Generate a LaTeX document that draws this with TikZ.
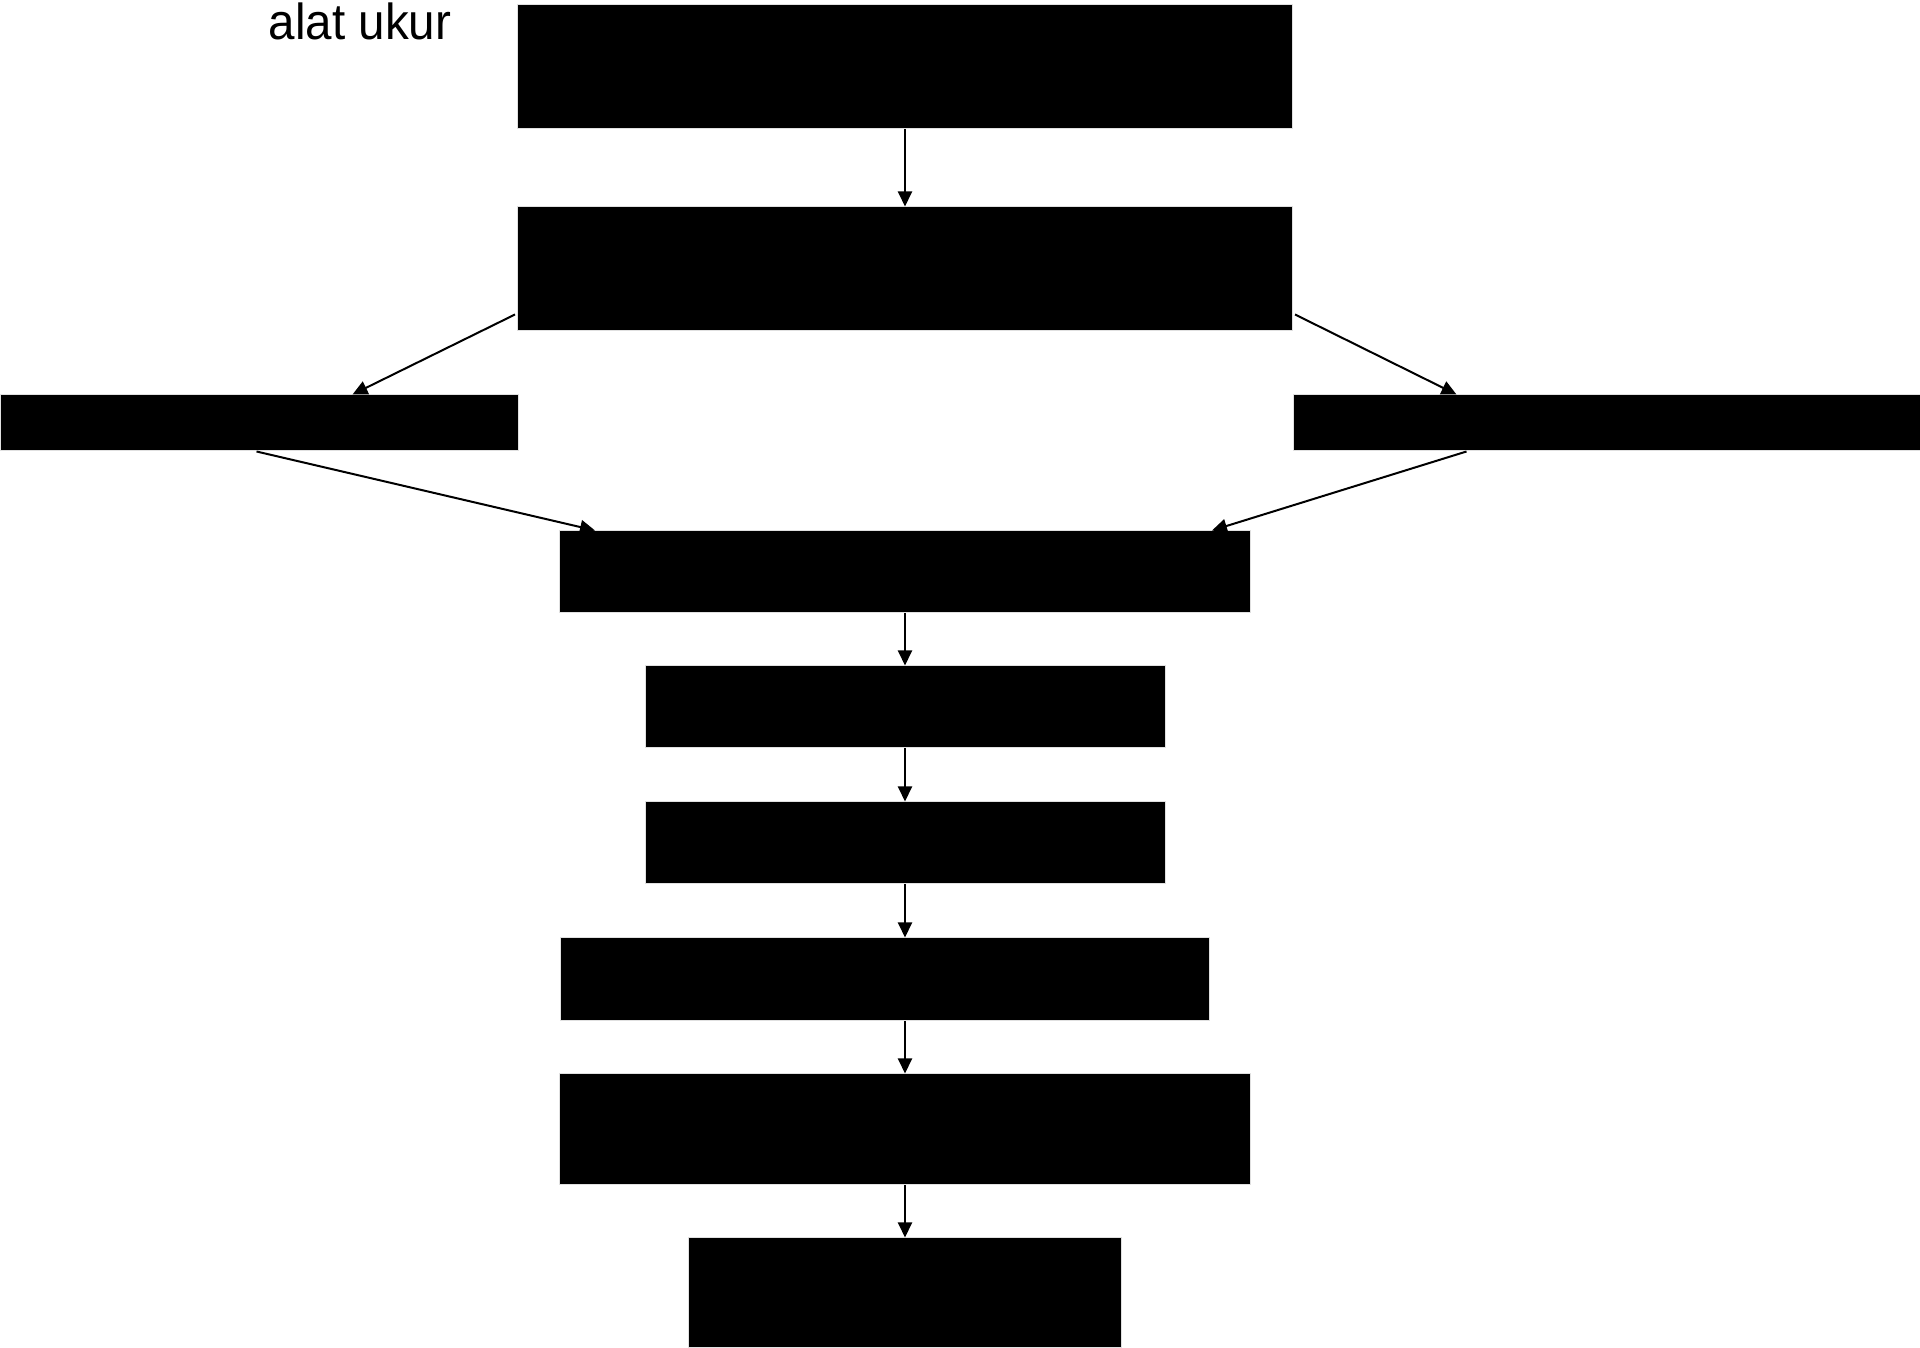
\documentclass[tikz,border=0pt]{standalone}
\usepackage{fontspec}
\setmainfont{Liberation Sans}
\usetikzlibrary{arrows.meta,calc}

\tikzset{
	blok/.style={fill=black, draw=black!12, line width=0.1mm, inner sep=0pt},
	panah/.style={line width=0.2mm, -{Triangle[length=1.5mm, width=1.4mm]}},
}

\begin{document}
\begin{tikzpicture}[x=0.1mm, y=-0.1mm]
			%%%%% START %%%%%
			\useasboundingbox (0,0) rectangle (1920,1348);
			
			\node[anchor=base west, inner sep=0pt, font=\fontsize{14.4}{17}\selectfont] (label) at (268,40) {\scalebox{0.94}[1]{alat ukur}};
			
			\node[blok, minimum width=77.5mm, minimum height=12.4mm] (atas) at (905,67) {};
			\node[blok, minimum width=77.5mm, minimum height=12.4mm] (kedua) at (905,269) {};
			
			\node[blok, minimum width=51.8mm, minimum height=5.6mm] (kiri) at (259,423) {};
			\node[blok, minimum width=62.7mm, minimum height=5.6mm] (kanan) at (1606.5,423) {};
			
			\node[blok, minimum width=69.1mm, minimum height=8.2mm] (tengah) at (905,572) {};
			\node[blok, minimum width=52mm, minimum height=8.2mm] (langkaha) at (905,707) {};
			\node[blok, minimum width=52mm, minimum height=8.2mm] (langkahb) at (905,843) {};
			\node[blok, minimum width=64.9mm, minimum height=8.3mm] (langkahc) at (884.5,979.5) {};
			\node[blok, minimum width=69.1mm, minimum height=11.1mm] (langkahd) at (905,1129.5) {};
			\node[blok, minimum width=43.3mm, minimum height=11mm] (akhir) at (905,1293) {};
			
			\draw[panah] (atas.south) -- (kedua.north);
			
			\draw[panah] ($(kedua.south west)+(-2,-17)$) -- ($(kiri.north west)+(353,0)$);
			\draw[panah] ($(kedua.south east)+(2,-17)$) -- ($(kanan.north west)+(164,0)$);
			
			\draw[panah] ($(kiri.south west)+(257,0)$) -- ($(tengah.north west)+(36,0)$);
			\draw[panah] ($(kanan.south west)+(174,0)$) -- ($(tengah.north east)+(-39,0)$);
			
			\draw[panah] (tengah.south) -- (langkaha.north);
			\draw[panah] (langkaha.south) -- (langkahb.north);
			\draw[panah] (langkahb.south) -- (langkahb.south |- langkahc.north);
			\draw[panah] (langkahd.north |- langkahc.south) -- (langkahd.north);
			\draw[panah] (langkahd.south) -- (akhir.north);
			
			%%%%% END %%%%%
\end{tikzpicture}
\end{document}
